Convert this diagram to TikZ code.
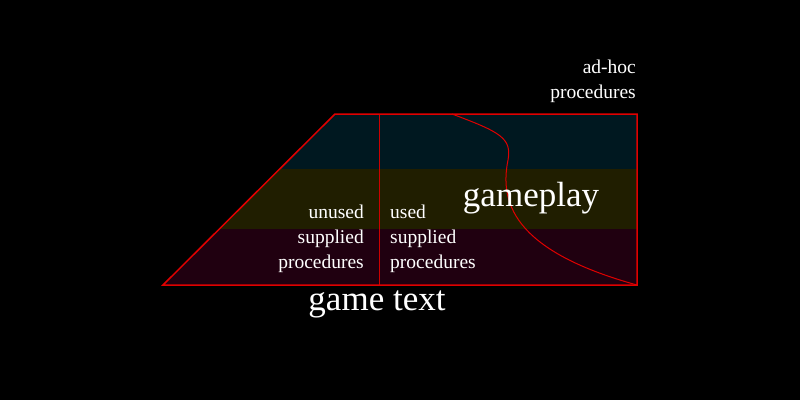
\documentclass[tikz,border=0pt]{standalone}
\usepackage{fontspec}
\setmainfont{Liberation Serif}
\definecolor{bandtop}{HTML}{001820}
\definecolor{bandmid}{HTML}{201E00}
\definecolor{bandlow}{HTML}{200010}
\definecolor{edgered}{HTML}{E00000}
\tikzset{
  small/.style={text=white, font=\fontsize{19.5}{25}\selectfont, align=#1, inner sep=0pt},
  big/.style={text=white, font=\fontsize{35}{38}\selectfont, inner sep=0pt}
}
\begin{document}
\begin{tikzpicture}[x=1pt,y=-1pt]
  \fill[black] (0,0) rectangle (800,400);
  \useasboundingbox (0,0) rectangle (800,400);
  % bands
  \begin{scope}
    \clip (335,114) -- (637,114) -- (637,285) -- (163,285) -- cycle;
    \fill[bandtop] (160,114) rectangle (640,169);
    \fill[bandmid] (160,169) rectangle (640,229);
    \fill[bandlow] (160,229) rectangle (640,285);
  \end{scope}
  % divider and curve
  \draw[red!80!black, line width=0.6pt] (379,114) -- (379,285);
  \draw[edgered, line width=1pt] (452,114) .. controls (500,132) and (512,138) .. (508,160)
    .. controls (500,200) and (510,250) .. (637,285);
  % outline
  \draw[edgered, line width=1.5pt] (335,114) -- (637,114) -- (637,285) -- (163,285) -- cycle;
  % labels
  \node[small=right, anchor=north east] (adhoc) at (636,60) {ad-hoc\\procedures};
  \node[small=right, anchor=north east] (unused) at (364,205) {unused\\supplied\\procedures};
  \node[small=left, anchor=north west] (used) at (390,205) {used\\supplied\\procedures};
  \node[big] (gameplay) at (531,198) {gameplay};
  \node[big] (gametext) at (377,304) {game text};
\end{tikzpicture}
\end{document}
